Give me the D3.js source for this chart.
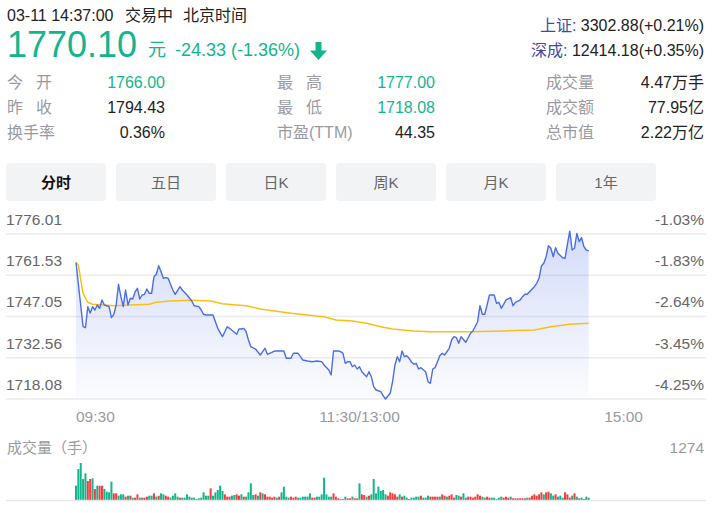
<!DOCTYPE html>
<html><head><meta charset="utf-8">
<script src="https://cdn.jsdelivr.net/npm/d3@7"></script>
<style>
html,body{margin:0;padding:0;background:#fff;}
svg{display:block;font-family:"Liberation Sans",Arial,"Noto Sans CJK SC",sans-serif;}
</style></head><body>
<svg id="c" width="722" height="513"></svg>
<script>
// ---------- data ----------
const quoteTime = "03-11 14:37:00";
const quoteStatus = ["交易中", "北京时间"];
const lastPrice = "1770.10";
const priceUnit = "元";
const changeText = "-24.33 (-1.36%)";
const prevClose = 1794.43;

const indexNames = ["上证", "深成"];
const indexValues = ["3302.88(+0.21%)", "12414.18(+0.35%)"];

const statNames = ["今 开", "昨 收", "换手率", "最 高", "最 低", "市盈(TTM)", "成交量", "成交额", "总市值"];
const statValues = ["1766.00", "1794.43", "0.36%", "1777.00", "1718.08", "44.35", "4.47万手", "77.95亿", "2.22万亿"];
const statIsPrice = [true, false, false, true, true, false, false, false, false];

const tabs = ["分时", "五日", "日K", "周K", "月K", "1年"];

const yTicks = [1776.01, 1761.53, 1747.05, 1732.56, 1718.08];
const pctTicks = ["-1.03%", "-1.83%", "-2.64%", "-3.45%", "-4.25%"];
const xTickLabels = ["09:30", "11:30/13:00", "15:00"];
const xTickMinutes = [0, 120, 240];
const volMaxLabel = 1274;
const volTitle = "成交量（手）";

// trading minutes since 09:30 (lunch break removed), price
const priceMin = [0,3,4,5,6,7,8,9,10,11,12,14,15,16,17,18,19,20,21,22,23,24,25,26,27,28,29,30,31,32,33,34,35,36,37,38,39,40,41,42,44,45,47,49,50,52,53,54,55,58,59,60,62,63,64,65,67,68,69,70,71,72,73,74,76,78,79,80,81,82,84,88,89,91,92,94,95,96,98,100,102,104,105,107,108,109,111,112,113,114,115,116,117,118,119,120,121,123,124,125,126,127,129,130,131,133,134,135,136,137,138,139,140,141,142,143,144,145,146,148,149,150,151,152,154,155,156,158,159,160,161,162,163,165,166,167,168,170,171,172,173,174,175,177,178,179,180,181,182,184,185,186,188,189,190,191,192,194,195,196,197,198,199,200,201,202,203,204,206,207,208,209,210,211,212,213,214,215,216,217];
const priceVal = [1766.00,1743.46,1743.11,1750.49,1748.27,1750.49,1749.33,1751.08,1749.92,1752.84,1751.08,1750.49,1746.62,1747.82,1751.08,1758.35,1754.00,1750.49,1756.35,1751.08,1753.44,1753.19,1755.65,1756.95,1753.19,1754.59,1754.84,1756.70,1755.19,1755.19,1761.02,1761.86,1764.88,1762.77,1760.46,1760.67,1760.46,1758.35,1756.35,1754.84,1757.51,1756.35,1754.59,1752.49,1750.84,1750.49,1749.33,1747.82,1747.57,1747.57,1745.22,1742.90,1739.95,1741.71,1743.46,1742.90,1741.50,1740.80,1742.66,1742.66,1742.90,1741.71,1738.79,1736.44,1735.63,1733.53,1734.69,1735.88,1733.77,1734.12,1734.93,1734.93,1732.37,1732.37,1734.12,1734.12,1732.93,1731.77,1731.42,1731.18,1731.42,1731.18,1730.02,1728.26,1726.51,1734.93,1734.93,1734.69,1734.12,1730.61,1731.18,1731.18,1729.42,1730.02,1728.61,1729.42,1727.66,1725.91,1727.66,1725.91,1722.40,1721.24,1720.64,1719.24,1718.08,1720.08,1724.15,1730.02,1732.93,1731.18,1734.93,1732.93,1733.28,1732.37,1731.07,1730.26,1730.61,1728.61,1729.07,1727.66,1724.15,1723.59,1728.61,1729.07,1733.28,1734.12,1733.53,1735.88,1738.79,1739.95,1739.60,1737.64,1739.95,1737.99,1739.60,1741.15,1741.95,1745.22,1750.84,1747.82,1747.82,1751.08,1754.59,1754.59,1751.68,1752.03,1749.92,1751.33,1752.84,1753.65,1750.84,1752.03,1752.84,1754.00,1754.84,1754.84,1755.75,1757.51,1758.70,1760.46,1764.78,1765.72,1768.04,1771.90,1770.99,1768.04,1771.20,1769.23,1767.69,1767.48,1772.39,1777.00,1770.39,1770.99,1776.20,1773.31,1774.71,1771.55,1770.39,1770.10];

const avgMin = [0,1,2,3,5,7,12,16,23,31,34,40,48,57,62,68,72,78,84,91,98,105,110,117,123,129,134,143,150,167,181,194,201,209,217];
const avgVal = [1766.00,1765.13,1759.86,1755.19,1752.03,1751.33,1751.08,1750.84,1751.08,1751.33,1752.03,1752.49,1752.73,1752.49,1751.54,1751.08,1750.84,1749.68,1748.98,1748.17,1747.57,1746.97,1745.82,1745.47,1744.66,1743.46,1742.66,1741.95,1741.71,1741.71,1741.95,1742.31,1743.46,1744.31,1744.66];

// volume per minute (手), minute 0..217
const volumes = [
493,1066,1274,722,917,654,722,745,378,493,
493,493,378,287,264,631,229,229,149,195,
195,115,149,149,80,80,195,80,80,80,
115,149,149,229,115,149,229,195,149,115,
80,149,229,115,80,80,80,195,115,80,
80,34,57,80,264,149,149,401,149,264,
344,493,310,195,115,115,149,172,195,149,
195,115,115,264,573,172,195,149,264,229,
195,115,115,80,115,80,115,264,459,115,
80,115,80,115,80,80,115,115,115,229,
80,80,115,115,195,768,195,115,115,229,
115,57,34,34,115,57,57,115,57,57,
573,195,172,115,149,195,722,229,459,310,
344,195,149,264,229,195,115,195,115,149,
80,34,80,80,115,115,149,80,80,149,
115,115,115,115,115,195,149,115,149,195,
80,172,149,115,229,80,115,115,80,115,
195,149,115,80,115,80,80,80,34,80,
115,80,115,80,115,57,57,57,57,57,
57,80,80,149,195,149,195,264,195,264,
287,229,149,195,115,149,80,264,195,80,
149,229,115,57,80,34,115,80];
// R = up minute (red), G = down minute (green)
const volDir = ("GGGGGRRGRG"+"RRGGGGRRGG"+"GRGRGRRGRR"+"RGGRGRGGRR"+"GGGGRGGGGG"+
  "GGGGGGGRGG"+"GGGRRRGGRR"+"GRGGGGRGRG"+"RRRRRGRGGG"+"GRRRGGGGGG"+
  "RRGGGGGGGR"+"RRGGGRRGRR"+"GRRGRGGGGG"+"GGRRRRRGRG"+"GGGGGGRGGG"+
  "RRRRGRRGRR"+"RGGRGGRRRR"+"RRGGRRGGGG"+"GRRRGRRRRR"+"RGRRRRRRGR"+
  "RGGRGGGRRR"+"GRGRGGGG").split("");

// ---------- styles ----------
const GREEN = "#13b58d", RED = "#f63c3c", DARK = "#222", GRAY = "#999aa3", BLUE = "#3b4ba6";
const LINE = "#4a6de6", AVG = "#fbbf14", GRID = "#ebebeb";

const svg = d3.select("#c");

// ---------- header ----------
svg.append("text").attr("x", 7).attr("y", 21).attr("font-size", 16).attr("fill", DARK).text(quoteTime);
svg.append("text").attr("x", 125).attr("y", 21).attr("font-size", 16).attr("fill", DARK).text(quoteStatus[0]);
svg.append("text").attr("x", 183).attr("y", 21).attr("font-size", 16).attr("fill", DARK).text(quoteStatus[1]);

svg.append("text").attr("x", 7).attr("y", 57).attr("font-size", 36).attr("fill", GREEN).text(lastPrice);
svg.append("text").attr("x", 148).attr("y", 56).attr("font-size", 18).attr("fill", GREEN).text(priceUnit);
svg.append("text").attr("x", 175).attr("y", 56).attr("font-size", 18).attr("fill", GREEN).text(changeText);
svg.append("path").attr("d", "M315.5,42h6v8.5h5.5l-8.5,9.5l-8.5,-9.5h5.5z").attr("fill", GREEN);

indexNames.forEach((n, i) => {
  const t = svg.append("text").attr("x", 704).attr("y", 31 + i * 25).attr("font-size", 16).attr("text-anchor", "end");
  t.append("tspan").attr("fill", BLUE).text(n + ": ");
  t.append("tspan").attr("fill", DARK).text(indexValues[i]);
});

const colLabelX = [7, 277, 546], colValueX = [165, 435, 704], rowY = [88, 113, 138];
statNames.forEach((n, k) => {
  const col = Math.floor(k / 3), row = k % 3;
  const t = svg.append("text").attr("y", rowY[row]).attr("font-size", 16).attr("fill", GRAY);
  if (n.includes(" ")) {
    const parts = n.split(" ");
    t.attr("x", `${colLabelX[col]} ${colLabelX[col] + 29}`).text(parts.join(""));
  } else {
    t.attr("x", colLabelX[col]).text(n);
  }
  const v = statValues[k];
  const isGreen = statIsPrice[k] && parseFloat(v) < prevClose;
  svg.append("text").attr("x", colValueX[col]).attr("y", rowY[row]).attr("font-size", 16)
    .attr("text-anchor", "end").attr("fill", isGreen ? GREEN : DARK).text(v);
});

// ---------- tabs ----------
tabs.forEach((t, i) => {
  svg.append("rect").attr("x", 6 + i * 110).attr("y", 163).attr("width", 100).attr("height", 38)
    .attr("rx", 4).attr("fill", "#f2f3f5");
  svg.append("text").attr("x", 56 + i * 110).attr("y", 188).attr("font-size", 15)
    .attr("text-anchor", "middle").attr("fill", i === 0 ? "#111" : "#666")
    .attr("font-weight", i === 0 ? "bold" : "normal").text(t);
});

// ---------- price chart ----------
const x = d3.scaleLinear().domain([0, 240]).range([76, 643]);
const y = d3.scaleLinear().domain([yTicks[4], yTicks[0]]).range([399, 234]);

svg.append("g").selectAll("line").data(yTicks).join("line")
  .attr("x1", 6).attr("x2", 706).attr("y1", d => y(d)).attr("y2", d => y(d))
  .attr("stroke", GRID).attr("stroke-width", 1.5);

svg.append("g").selectAll("text").data(yTicks).join("text")
  .attr("x", 6).attr("y", d => y(d) - 9).attr("font-size", 15.5).attr("fill", "#666")
  .text(d => d.toFixed(2));
svg.append("g").selectAll("text").data(pctTicks).join("text")
  .attr("x", 704).attr("y", (d, i) => y(yTicks[i]) - 9).attr("font-size", 15.5).attr("fill", "#666")
  .attr("text-anchor", "end").text(d => d);

xTickLabels.forEach((l, i) => {
  svg.append("text").attr("x", x(xTickMinutes[i])).attr("y", 422).attr("font-size", 15.5).attr("fill", GRAY)
    .attr("text-anchor", i === 0 ? "start" : (i === 2 ? "end" : "middle")).text(l);
});

const defs = svg.append("defs");
const grad = defs.append("linearGradient").attr("id", "ag").attr("gradientUnits", "userSpaceOnUse")
  .attr("x1", 0).attr("y1", y(yTicks[0])).attr("x2", 0).attr("y2", y(yTicks[4]));
grad.append("stop").attr("offset", 0).attr("stop-color", LINE).attr("stop-opacity", 0.24);
grad.append("stop").attr("offset", 1).attr("stop-color", LINE).attr("stop-opacity", 0.02);

const pts = priceMin.map((m, i) => [m, priceVal[i]]);
const area = d3.area().x(d => x(d[0])).y0(y(yTicks[4])).y1(d => y(d[1]));
svg.append("path").attr("d", area(pts)).attr("fill", "url(#ag)");

const line = d3.line().x(d => x(d[0])).y(d => y(d[1]));
svg.append("path").attr("d", line(avgMin.map((m, i) => [m, avgVal[i]])))
  .attr("fill", "none").attr("stroke", AVG).attr("stroke-width", 1.5);
svg.append("path").attr("d", line(pts))
  .attr("fill", "none").attr("stroke", LINE).attr("stroke-width", 1.4).attr("stroke-linejoin", "round");

// ---------- volume ----------
svg.append("text").attr("x", 7).attr("y", 453).attr("font-size", 15).attr("fill", GRAY).text(volTitle);
svg.append("text").attr("x", 704).attr("y", 453).attr("font-size", 15.5).attr("fill", GRAY)
  .attr("text-anchor", "end").text(volMaxLabel);

const yv = d3.scaleLinear().domain([0, volMaxLabel]).range([500, 463]);
const bw = (x(1) - x(0)) * 0.85;
svg.append("g").selectAll("rect").data(volumes).join("rect")
  .attr("x", (d, i) => x(i) - bw / 2).attr("width", bw)
  .attr("y", d => yv(d)).attr("height", d => 500 - yv(d))
  .attr("fill", (d, i) => volDir[i] === "R" ? RED : GREEN);

svg.append("line").attr("x1", 6).attr("x2", 706).attr("y1", 500.5).attr("y2", 500.5)
  .attr("stroke", "#e6e6e6").attr("stroke-width", 1.5);
</script>
</body></html>
